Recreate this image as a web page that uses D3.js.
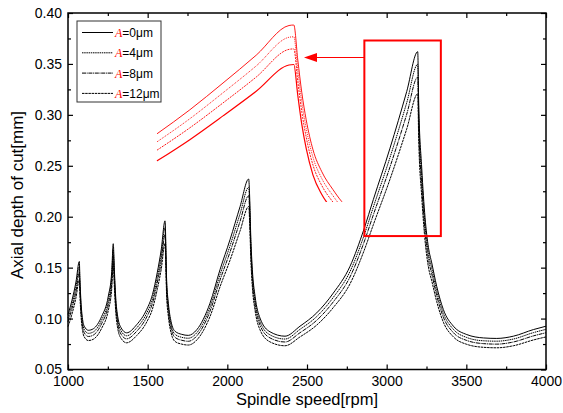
<!DOCTYPE html>
<html>
<head>
<meta charset="utf-8">
<script src="https://cdn.jsdelivr.net/npm/d3@7"></script>
<style>
  body { margin: 0; background: #fff; }
  text { font-family: "Liberation Sans", Arial, sans-serif; }
</style>
</head>
<body>
<div class="chart"></div>
<script>
// spindle speed samples (rpm)
const rpm = [
  1000, 1025, 1050, 1071, 1075, 1082, 1090, 1102, 1128, 1159, 1211, 1253, 1274, 1284,
  1291, 1299, 1312, 1333, 1368, 1431, 1494, 1530, 1560, 1585, 1609,
  1619, 1630, 1647, 1672, 1714, 1755, 1808, 1891, 1954, 2017, 2080, 2134,
  2140, 2147, 2157, 2174, 2205, 2268, 2362, 2456, 2561, 2665, 2770, 2858, 2916, 3021, 3126, 3195,
  3201, 3220, 3241, 3262, 3283, 3314, 3356, 3419, 3503, 3607, 3691, 3795, 3921, 4000
];
// axial depth of cut (mm) for each runout amplitude
const depthA0 = [
  0.104, 0.118, 0.136, 0.156, 0.138, 0.115, 0.101, 0.0925, 0.0885, 0.090, 0.102, 0.122, 0.145, 0.1735,
  0.148, 0.122, 0.102, 0.091, 0.086, 0.094, 0.109, 0.1235, 0.145, 0.1675, 0.196,
  0.138, 0.115, 0.097, 0.0875, 0.0845, 0.0835, 0.089, 0.115, 0.148, 0.1775, 0.210, 0.237,
  0.220, 0.181, 0.148, 0.122, 0.1005, 0.087, 0.0827, 0.0925, 0.1056, 0.125, 0.1513, 0.188, 0.2167, 0.2673, 0.323, 0.362,
  0.312, 0.248, 0.199, 0.170, 0.1546, 0.1317, 0.1088, 0.0925, 0.0843, 0.081, 0.0805, 0.0827, 0.0892, 0.0925
];
const depthA4 = [
  0.1005, 0.1140, 0.1314, 0.1507, 0.1333, 0.1111, 0.0976, 0.0894, 0.0855, 0.0869, 0.0985, 0.1179, 0.1401, 0.1676,
  0.1430, 0.1179, 0.0985, 0.0879, 0.0831, 0.0908, 0.1053, 0.1193, 0.1401, 0.1618, 0.1893,
  0.1333, 0.1111, 0.0937, 0.0845, 0.0816, 0.0807, 0.0860, 0.1111, 0.1430, 0.1715, 0.2029, 0.2289,
  0.2125, 0.1748, 0.1430, 0.1179, 0.0971, 0.0840, 0.0799, 0.0894, 0.1020, 0.1208, 0.1462, 0.1816, 0.2093, 0.2582, 0.3120, 0.3497,
  0.3014, 0.2396, 0.1922, 0.1642, 0.1493, 0.1272, 0.1051, 0.0894, 0.0814, 0.0782, 0.0778, 0.0799, 0.0862, 0.0894
];
const depthA8 = [
  0.0968, 0.1099, 0.1266, 0.1452, 0.1285, 0.1071, 0.0940, 0.0861, 0.0824, 0.0838, 0.0950, 0.1136, 0.1350, 0.1615,
  0.1378, 0.1136, 0.0950, 0.0847, 0.0801, 0.0875, 0.1015, 0.1150, 0.1350, 0.1559, 0.1825,
  0.1285, 0.1071, 0.0903, 0.0815, 0.0787, 0.0777, 0.0829, 0.1071, 0.1378, 0.1653, 0.1955, 0.2206,
  0.2048, 0.1685, 0.1378, 0.1136, 0.0936, 0.0810, 0.0770, 0.0861, 0.0983, 0.1164, 0.1409, 0.1750, 0.2017, 0.2489, 0.3007, 0.3370,
  0.2905, 0.2309, 0.1853, 0.1583, 0.1439, 0.1226, 0.1013, 0.0861, 0.0785, 0.0754, 0.0749, 0.0770, 0.0830, 0.0861
];
const depthA12 = [
  0.0921, 0.1045, 0.1205, 0.1382, 0.1223, 0.1019, 0.0895, 0.0820, 0.0784, 0.0797, 0.0904, 0.1081, 0.1285, 0.1537,
  0.1311, 0.1081, 0.0904, 0.0806, 0.0762, 0.0833, 0.0966, 0.1094, 0.1285, 0.1484, 0.1737,
  0.1223, 0.1019, 0.0859, 0.0775, 0.0749, 0.0740, 0.0789, 0.1019, 0.1311, 0.1573, 0.1861, 0.2100,
  0.1949, 0.1604, 0.1311, 0.1081, 0.0890, 0.0771, 0.0733, 0.0820, 0.0936, 0.1108, 0.1341, 0.1666, 0.1920, 0.2368, 0.2862, 0.3207,
  0.2764, 0.2197, 0.1763, 0.1506, 0.1370, 0.1167, 0.0964, 0.0820, 0.0747, 0.0718, 0.0713, 0.0733, 0.0790, 0.0820
];

// zoomed region (red box) and the curves shown in the enlarged inset
const zoomRpm = [2860, 3340];
const zoomDepth = [0.181, 0.373];
const insetRpm = [2860, 2942, 3025, 3108, 3190, 3202, 3212, 3222, 3233, 3250, 3272, 3300, 3322, 3345];
const insetA0 = [0.248, 0.273, 0.301, 0.330, 0.361, 0.3615, 0.325, 0.291, 0.2626, 0.2313, 0.2084, 0.1897, 0.1772, 0.1675];
const insetA4 = [0.2396, 0.2637, 0.2908, 0.3188, 0.3487, 0.3492, 0.3140, 0.2811, 0.2537, 0.2234, 0.2013, 0.1833, 0.1712, 0.1618];
const insetA8 = [0.2309, 0.2542, 0.2802, 0.3072, 0.3361, 0.3366, 0.3026, 0.2709, 0.2445, 0.2153, 0.1940, 0.1766, 0.1650, 0.1559];
const insetA12 = [0.2197, 0.2419, 0.2667, 0.2924, 0.3198, 0.3203, 0.2880, 0.2578, 0.2327, 0.2049, 0.1846, 0.1681, 0.1570, 0.1484];

const legendLabels = ["=0\u03bcm", "=4\u03bcm", "=8\u03bcm", "=12\u03bcm"];
const xTicks = [1000, 1500, 2000, 2500, 3000, 3500, 4000];
const xMinor = [1250, 1750, 2250, 2750, 3250, 3750];
const yTicks = [0.05, 0.10, 0.15, 0.20, 0.25, 0.30, 0.35, 0.40];
const yMinor = [0.075, 0.125, 0.175, 0.225, 0.275, 0.325, 0.375];

(() => {
  const dashes = [null, "1.5,0.7", "4,0.7,1,0.7", "2.5,0.7"];
  const W = 563, H = 413;
  const plotL = 68, plotR = 546, plotT = 13, plotB = 369.5;

  const svg = d3.select(".chart").append("svg").attr("width", W).attr("height", H);

  const x = d3.scaleLinear().domain([1000, 4000]).range([plotL, plotR]);
  const y = d3.scaleLinear().domain([0.05, 0.40]).range([plotB, plotT]);

  // axes: ticks point inward on all four sides
  function styleAxis(g) {
    g.select(".domain").remove();
    g.selectAll("line").attr("stroke", "#000").attr("stroke-width", 1.2);
    g.selectAll("text").attr("font-size", 14).attr("fill", "#000")
      .attr("font-family", "'Liberation Sans', Arial, sans-serif");
  }
  svg.append("g").attr("transform", `translate(0,${plotB})`)
    .call(d3.axisBottom(x).tickValues(xTicks).tickSizeInner(-5).tickSizeOuter(0).tickPadding(7).tickFormat(d3.format("d")))
    .call(styleAxis);
  svg.append("g").attr("transform", `translate(0,${plotB})`)
    .call(d3.axisBottom(x).tickValues(xMinor).tickSize(-3).tickFormat(""))
    .call(styleAxis);
  svg.append("g").attr("transform", `translate(0,${plotT})`)
    .call(d3.axisTop(x).tickValues(xTicks).tickSize(-5).tickFormat(""))
    .call(styleAxis);
  svg.append("g").attr("transform", `translate(0,${plotT})`)
    .call(d3.axisTop(x).tickValues(xMinor).tickSize(-3).tickFormat(""))
    .call(styleAxis);
  svg.append("g").attr("transform", `translate(${plotL},0)`)
    .call(d3.axisLeft(y).tickValues(yTicks).tickSizeInner(-5).tickSizeOuter(0).tickPadding(6).tickFormat(d3.format(".2f")))
    .call(styleAxis);
  svg.append("g").attr("transform", `translate(${plotL},0)`)
    .call(d3.axisLeft(y).tickValues(yMinor).tickSize(-3).tickFormat(""))
    .call(styleAxis);
  svg.append("g").attr("transform", `translate(${plotR},0)`)
    .call(d3.axisRight(y).tickValues(yTicks).tickSize(-5).tickFormat(""))
    .call(styleAxis);
  svg.append("g").attr("transform", `translate(${plotR},0)`)
    .call(d3.axisRight(y).tickValues(yMinor).tickSize(-3).tickFormat(""))
    .call(styleAxis);

  svg.append("rect")
    .attr("x", plotL).attr("y", plotT)
    .attr("width", plotR - plotL).attr("height", plotB - plotT)
    .attr("fill", "none").attr("stroke", "#000").attr("stroke-width", 1.5);

  svg.append("text")
    .attr("x", (plotL + plotR) / 2).attr("y", 405)
    .attr("text-anchor", "middle").attr("font-size", 16.5)
    .text("Spindle speed[rpm]");
  svg.append("text")
    .attr("transform", "translate(23,195) rotate(-90)")
    .attr("text-anchor", "middle").attr("font-size", 17)
    .text("Axial depth of cut[mm]");

  // main lobes
  const series = [depthA0, depthA4, depthA8, depthA12];
  const line = d3.line()
    .x((d) => x(d[0]))
    .y((d) => y(d[1]))
    .curve(d3.curveMonotoneX);

  series.forEach((vals, i) => {
    svg.append("path")
      .datum(rpm.map((r, j) => [r, vals[j]]))
      .attr("d", line)
      .attr("fill", "none")
      .attr("stroke", "#000")
      .attr("stroke-width", 1)
      .attr("stroke-dasharray", dashes[i]);
  });

  // red box marking the zoomed region
  svg.append("rect")
    .attr("x", x(zoomRpm[0])).attr("y", y(zoomDepth[1]))
    .attr("width", x(zoomRpm[1]) - x(zoomRpm[0]))
    .attr("height", y(zoomDepth[0]) - y(zoomDepth[1]))
    .attr("fill", "none").attr("stroke", "#f00").attr("stroke-width", 2);

  // arrow to the inset
  const arrowY = 57.5;
  svg.append("line")
    .attr("x1", x(zoomRpm[0])).attr("x2", 314)
    .attr("y1", arrowY).attr("y2", arrowY)
    .attr("stroke", "#f00").attr("stroke-width", 1.2);
  svg.append("path")
    .attr("d", `M304,${arrowY} L317,${arrowY - 4.5} L317,${arrowY + 4.5} Z`)
    .attr("fill", "#f00");

  // enlarged inset
  const ix = d3.scaleLinear().domain(zoomRpm).range([157, 349]);
  const iy = d3.scaleLinear().domain(zoomDepth).range([198, 14]);
  svg.append("clipPath").attr("id", "inset-clip")
    .append("rect").attr("x", 150).attr("y", 0).attr("width", 220).attr("height", 202);

  const insetLine = d3.line()
    .x((d) => ix(d[0]))
    .y((d) => iy(d[1]))
    .curve(d3.curveMonotoneX);
  const insetSeries = [insetA0, insetA4, insetA8, insetA12];
  const insetDashes = [null, "1,1", "2,1", null];
  insetSeries.forEach((vals, i) => {
    svg.append("path")
      .datum(insetRpm.map((r, j) => [r, vals[j]]))
      .attr("d", insetLine)
      .attr("clip-path", "url(#inset-clip)")
      .attr("fill", "none")
      .attr("stroke", "#f00")
      .attr("stroke-width", i === 3 ? 1.2 : 0.9)
      .attr("stroke-dasharray", insetDashes[i]);
  });

  // legend
  const legend = svg.append("g").attr("class", "legend");
  legend.append("rect")
    .attr("x", 77).attr("y", 21).attr("width", 84).attr("height", 81)
    .attr("fill", "#fff").attr("stroke", "#333").attr("stroke-width", 1);
  legendLabels.forEach((lab, i) => {
    const ly = 32.5 + i * 20.3;
    legend.append("line")
      .attr("x1", 82).attr("x2", 113).attr("y1", ly).attr("y2", ly)
      .attr("stroke", "#000").attr("stroke-width", 1)
      .attr("stroke-dasharray", dashes[i]);
    const t = legend.append("text").attr("x", 115).attr("y", ly + 4.5).attr("font-size", 12);
    t.append("tspan")
      .attr("font-family", "'Liberation Serif', 'Times New Roman', serif")
      .attr("font-style", "italic").attr("fill", "#f00").text("A");
    t.append("tspan").attr("fill", "#000").text(lab);
  });
})();
</script>
</body>
</html>
